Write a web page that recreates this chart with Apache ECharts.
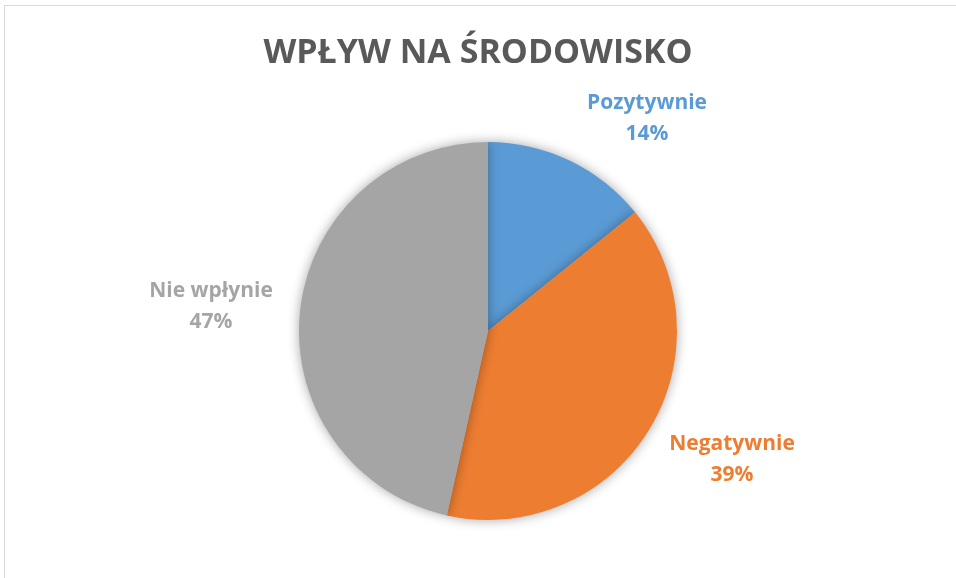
<!DOCTYPE html>
<html><head><meta charset="utf-8">
<script src="https://cdn.jsdelivr.net/npm/echarts@6/dist/echarts.min.js"></script>
<style>
html,body{margin:0;padding:0;background:#fff;overflow:hidden;}
#frame{position:absolute;left:4px;top:5px;width:1100px;height:800px;border:1.5px solid #d9d9d9;box-sizing:border-box;}
#c{position:absolute;left:0;top:0;width:956px;height:578px;}
</style></head>
<body>
<div id="frame"></div>
<div id="c"></div>
<script>
const title = 'WPŁYW NA ŚRODOWISKO';
const categories = ['Pozytywnie', 'Negatywnie', 'Nie wpłynie'];
const values = [14.2, 39.3, 46.5];
const colors = ['#5B9BD5', '#ED7D31', '#A5A5A5'];

const labelPos = [[647, 119], [732, 460], [211, 307]];
const chart = echarts.init(document.getElementById('c'), null, {renderer: 'canvas'});
chart.setOption({
  animation: false,
  title: {
    text: title, left: 'center', top: 31,
    textStyle: {fontFamily: 'Open Sans', fontWeight: 'bold', fontSize: 34, color: '#595959'}
  },
  series: [{
    type: 'pie',
    center: [488, 331],
    radius: 189,
    startAngle: 90,
    clockwise: true,
    data: categories.map((n, i) => ({name: n, value: values[i], itemStyle: {color: colors[i]}, label: {color: colors[i]}})),
    itemStyle: {shadowBlur: 12, shadowColor: 'rgba(0,0,0,0.35)', borderWidth: 0},
    label: {
      show: true, position: 'outside',
      formatter: p => p.name + '\n' + Math.round(p.percent) + '%',
      fontFamily: 'Open Sans', fontWeight: 'bold', fontSize: 21, lineHeight: 31, align: 'center'
    },
    labelLine: {show: false},
    labelLayout: p => ({x: labelPos[p.dataIndex][0], y: labelPos[p.dataIndex][1], align: 'center', verticalAlign: 'middle'})
  }]
});
</script>
</body></html>
